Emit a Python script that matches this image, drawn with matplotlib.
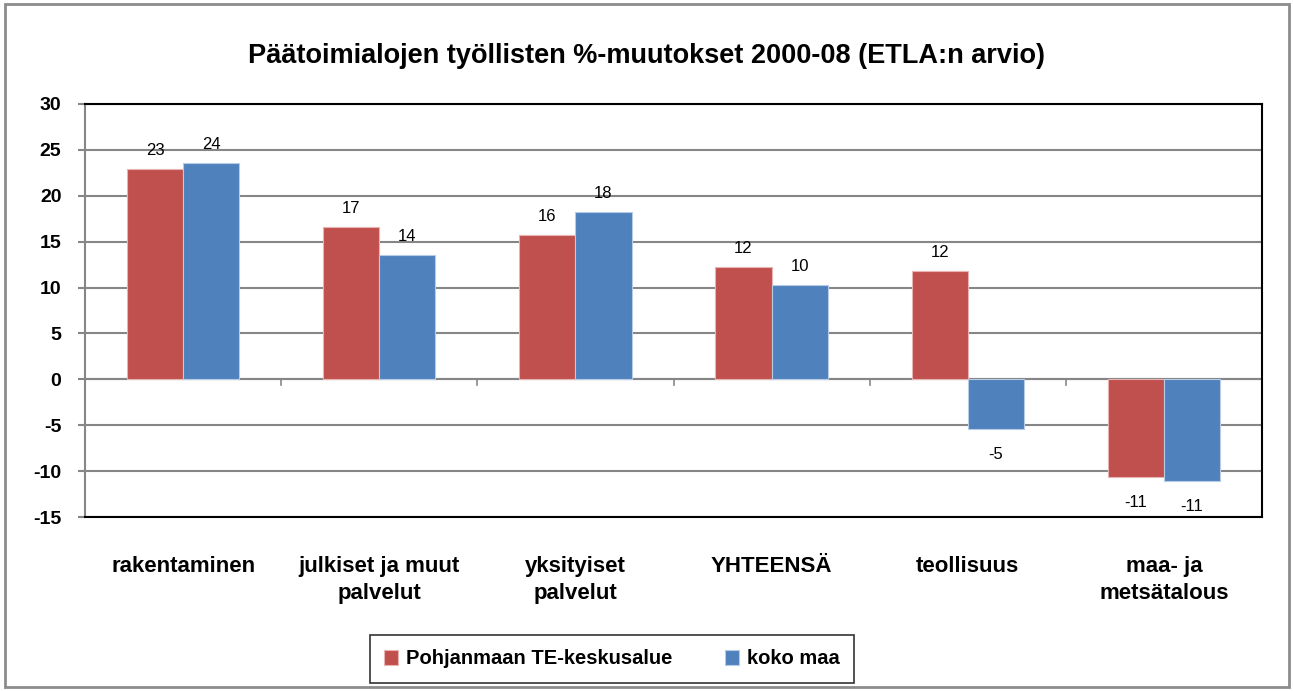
import matplotlib
matplotlib.use('Agg')

import numpy as np
import matplotlib.pyplot as plt
from matplotlib.patches import Rectangle

categories = ['rakentaminen', 'julkiset ja muut\npalvelut', 'yksityiset\npalvelut',
              'YHTEENSÄ', 'teollisuus', 'maa- ja\nmetsätalous']
pohjanmaa = [22.9, 16.6, 15.7, 12.2, 11.8, -10.6]
koko_maa = [23.6, 13.6, 18.2, 10.3, -5.4, -11.1]
series_names = ['Pohjanmaan TE-keskusalue', 'koko maa']
title = 'Päätoimialojen työllisten %-muutokset 2000-08 (ETLA:n arvio)'

red = '#C0504D'
blue = '#4F81BD'
grid_col = '#868686'

plt.rcParams['font.family'] = ['Liberation Sans', 'DejaVu Sans']
plt.rcParams['axes.unicode_minus'] = False

fig = plt.figure(figsize=(12.93, 6.91), dpi=100)
ax = fig.add_axes([85 / 1293, 174 / 691, 1177 / 1293, 413 / 691])

x = np.arange(len(categories))
w = 0.286
b1 = ax.bar(x - w / 2, pohjanmaa, w, color=red, edgecolor='#E8B3B2', linewidth=0.8,
            label=series_names[0], zorder=3)
b2 = ax.bar(x + w / 2, koko_maa, w, color=blue, edgecolor='#B7CBE6', linewidth=0.8,
            label=series_names[1], zorder=3)

# value labels, rounded like in the original
for bars, vals in ((b1, pohjanmaa), (b2, koko_maa)):
    for rect, v in zip(bars, vals):
        cx = rect.get_x() + rect.get_width() / 2
        if v >= 0:
            ax.text(cx, v + 1.2, '%d' % round(v), ha='center', va='bottom', fontsize=12)
        else:
            ax.text(cx, v - 2.8, '%d' % round(v), ha='center', va='center', fontsize=12)

ax.set_xlim(-0.5, len(categories) - 0.5)
ax.set_ylim(-15, 30)
ax.set_yticks(range(-15, 31, 5))
ax.yaxis.grid(True, color=grid_col, linewidth=1.5, zorder=0)
ax.axhline(0, color=grid_col, linewidth=1.5, zorder=2)
# small category separator ticks on the zero line
for b in np.arange(0.5, len(categories) - 0.5, 1):
    ax.plot([b, b], [0, -0.6], color=grid_col, linewidth=1.2, zorder=2)

ax.set_xticks(x)
ax.set_xticklabels(categories, fontsize=16, fontweight='bold', linespacing=1.4)
ax.tick_params(axis='x', length=0, pad=28)
ax.tick_params(axis='y', length=5, color=grid_col, width=1.5, pad=12)
for lab in ax.get_yticklabels():
    lab.set_fontweight('bold')
    lab.set_fontsize(14)

for s in ('top', 'right', 'bottom'):
    ax.spines[s].set_color('black')
    ax.spines[s].set_linewidth(1.5)
ax.spines['left'].set_color(grid_col)
ax.spines['left'].set_linewidth(1.5)

fig.text(0.5, 1 - 56 / 691, title, ha='center', va='center', fontsize=19.5, fontweight='bold')

leg = fig.legend(handles=[b1, b2], loc='center', bbox_to_anchor=(612 / 1293, 1 - 659 / 691),
                 ncol=2, frameon=True, fancybox=False,
                 prop={'weight': 'bold', 'size': 14.5}, handlelength=0.7, handleheight=0.7,
                 columnspacing=2.6, handletextpad=0.4, borderpad=0.7, borderaxespad=0)
leg.get_frame().set_edgecolor('black')
leg.get_frame().set_linewidth(1.2)

fig.patches.append(Rectangle((5 / 1293, 4 / 691), 1284 / 1293, 683 / 691, transform=fig.transFigure,
                             fill=False, edgecolor='#8C8C8C', linewidth=2))

fig.savefig('out.png', dpi=100)
